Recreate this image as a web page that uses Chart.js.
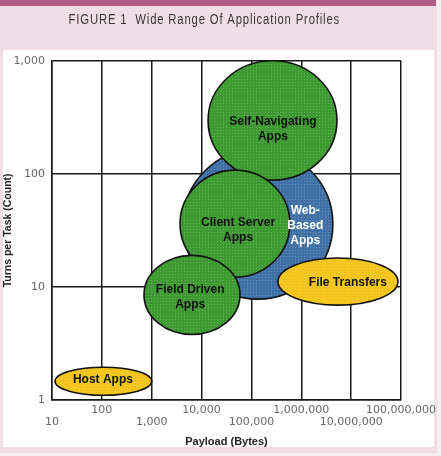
<!DOCTYPE html>
<html>
<head>
<meta charset="utf-8">
<script src="https://cdn.jsdelivr.net/npm/chart.js@4"></script>
<style>
    body { margin: 0; background: #f7eef2; overflow: hidden; }
    #moldura { position: absolute; left: 0; top: 0; width: 437px; height: 453px; background: #f0dde5; }
    #faixa { position: absolute; left: 0; top: 0; width: 436px; height: 6px; background: #b35c85; }
    #painel { position: absolute; left: 3px; top: 50px; width: 431px; height: 397px; background: #ffffff; }
    #grafico { position: absolute; left: 0; top: 0; }
</style>
</head>
<body>
<div id="moldura"></div>
<div id="faixa"></div>
<div id="painel"></div>
<canvas id="grafico" width="441" height="456"></canvas>
<script>
const apps = ['Web-Based Apps', 'Self-Navigating Apps', 'Client Server Apps', 'Field Driven Apps', 'File Transfers', 'Host Apps'];
const appLines = [['Web-', 'Based', 'Apps'], ['Self-Navigating', 'Apps'], ['Client Server', 'Apps'], ['Field Driven', 'Apps'], ['File Transfers'], ['Host Apps']];

// extent of each bubble (bytes / turns)
const payloadLow = [4200, 13500, 3700, 700, 340000, 11.5];
const payloadHigh = [4300000, 5200000, 590000, 59000, 87000000, 1000];
const turnsLow = [7.8, 88, 12.2, 3.8, 6.9, 1.1];
const turnsHigh = [166, 1000, 108, 19, 18, 1.95];

// where the name of each bubble sits
const labelPayload = [1200000, 270000, 54000, 5900, 8600000, 105];
const labelTurns = [35, 250, 31.6, 8.1, 10.8, 1.5];

const payloadTicks = [10, 100, 1000, 10000, 100000, 1000000, 10000000, 100000000];
const payloadTickLabels = ['10', '100', '1,000', '10,000', '100,000', '1,000,000', '10,000,000', '100,000,000'];
const turnsTicks = [1, 10, 100, 1000];
const turnsTickLabels = ['1', '10', '100', '1,000'];

const bubbleColors = ['#3f70a6', '#3d9a31', '#3d9a31', '#3d9a31', '#f3c51a', '#f3c51a'];
const labelColors = ['#ffffff', '#111111', '#111111', '#111111', '#111111', '#111111'];

Chart.defaults.font.family = "'DejaVu Sans', sans-serif";

// pontinhos claros por cima das cores (efeito retícula)
function reticula(ctx) {
    let tile = document.createElement('canvas');
    tile.width = 3;
    tile.height = 3;
    let t = tile.getContext('2d');
    t.fillStyle = 'rgba(255,255,255,0.22)';
    t.fillRect(1, 1, 1, 1);
    return ctx.createPattern(tile, 'repeat');
}

const bubbleShapes = {
    id: 'bubbleShapes',
    afterDatasetsDraw(chart) {
        const ctx = chart.ctx;
        const x = chart.scales.x;
        const y = chart.scales.y;
        const meta = chart.getDatasetMeta(0);
        const dots = reticula(ctx);

        ctx.save();
        meta.data.forEach(function (pt, i) {
            let rx = (x.getPixelForValue(payloadHigh[i]) - x.getPixelForValue(payloadLow[i])) / 2;
            let ry = (y.getPixelForValue(turnsLow[i]) - y.getPixelForValue(turnsHigh[i])) / 2;
            ctx.beginPath();
            ctx.ellipse(pt.x, pt.y, rx, ry, 0, 0, Math.PI * 2);
            ctx.fillStyle = bubbleColors[i];
            ctx.fill();
            ctx.fillStyle = dots;
            ctx.fill();
            ctx.lineWidth = 1.6;
            ctx.strokeStyle = '#111111';
            ctx.stroke();
        });

        ctx.font = "bold 12px 'Liberation Sans', Arial, sans-serif";
        ctx.textAlign = 'center';
        ctx.textBaseline = 'middle';
        for (let i = 0; i < apps.length; i++) {
            let lines = appLines[i];
            let cx = x.getPixelForValue(labelPayload[i]);
            let cy = y.getPixelForValue(labelTurns[i]) - (lines.length - 1) * 15 / 2;
            ctx.fillStyle = labelColors[i];
            lines.forEach(function (l, k) {
                ctx.fillText(l, cx, cy + k * 15);
            });
        }
        ctx.restore();
    }
};

// título mais estreito e espaçado, como no original
const narrowTitle = {
    id: 'narrowTitle',
    afterInit(chart) {
        const block = chart.titleBlock;
        if (!block) return;
        const draw = block.draw.bind(block);
        block.draw = function () {
            const ctx = chart.ctx;
            const cx = chart.width / 2;
            ctx.save();
            ctx.translate(cx, 0);
            ctx.scale(0.81, 1);
            ctx.translate(-cx, 0);
            ctx.letterSpacing = '1px';
            draw();
            ctx.restore();
        };
    }
};

let grafico = new Chart(document.getElementById('grafico'), {
    type: 'bubble',
    data: {
        datasets: [{
            label: 'Application profiles',
            data: apps.map(function (a, i) {
                return {
                    x: Math.sqrt(payloadLow[i] * payloadHigh[i]),
                    y: Math.sqrt(turnsLow[i] * turnsHigh[i]),
                    r: 0
                };
            }),
            backgroundColor: 'transparent',
            borderWidth: 0
        }]
    },
    options: {
        responsive: false,
        animation: false,
        events: [],
        layout: { padding: { left: 0, right: 40, top: 0, bottom: 4 } },
        plugins: {
            legend: { display: false },
            tooltip: { enabled: false },
            title: {
                display: true,
                text: 'FIGURE 1  Wide Range Of Application Profiles',
                color: '#383838',
                font: { family: "'Liberation Sans', Arial, sans-serif", size: 14, weight: 'normal', lineHeight: 1.2 },
                padding: { top: 12, bottom: 32 }
            }
        },
        scales: {
            x: {
                type: 'logarithmic',
                min: 10,
                max: 100000000,
                afterBuildTicks: function (s) { s.ticks = payloadTicks.map(function (v) { return { value: v }; }); },
                afterFit: function (s) { s.height = 52; },
                ticks: {
                    autoSkip: false,
                    maxRotation: 0,
                    minRotation: 0,
                    padding: 4,
                    color: '#666666',
                    font: { size: 11, lineHeight: 1.1 },
                    // rótulos alternados em duas alturas
                    callback: function (v, i) {
                        return i % 2 == 0 ? ['', payloadTickLabels[i]] : [payloadTickLabels[i], ''];
                    }
                },
                grid: { color: '#1a1a1a', lineWidth: 1.5, drawTicks: false },
                border: { color: '#1a1a1a', width: 1.5 },
                title: {
                    display: true,
                    text: 'Payload (Bytes)',
                    color: '#222222',
                    font: { family: "'Liberation Sans', Arial, sans-serif", size: 11, weight: 'bold', lineHeight: 1.2 },
                    padding: { top: 0, bottom: 3 }
                }
            },
            y: {
                type: 'logarithmic',
                min: 1,
                max: 1000,
                afterBuildTicks: function (s) { s.ticks = turnsTicks.map(function (v) { return { value: v }; }); },
                afterFit: function (s) { s.width = 52; },
                ticks: {
                    padding: 7,
                    color: '#666666',
                    font: { size: 11 },
                    callback: function (v, i) { return turnsTickLabels[i]; }
                },
                grid: { color: '#1a1a1a', lineWidth: 1.5, drawTicks: false },
                border: { color: '#1a1a1a', width: 1.5 },
                title: {
                    display: true,
                    text: 'Turns per Task (Count)',
                    color: '#222222',
                    font: { family: "'Liberation Sans', Arial, sans-serif", size: 10.5, weight: 'bold', lineHeight: 1.2 },
                    padding: { top: 2, bottom: 0 }
                }
            }
        }
    },
    plugins: [narrowTitle, bubbleShapes]
});
</script>
</body>
</html>
